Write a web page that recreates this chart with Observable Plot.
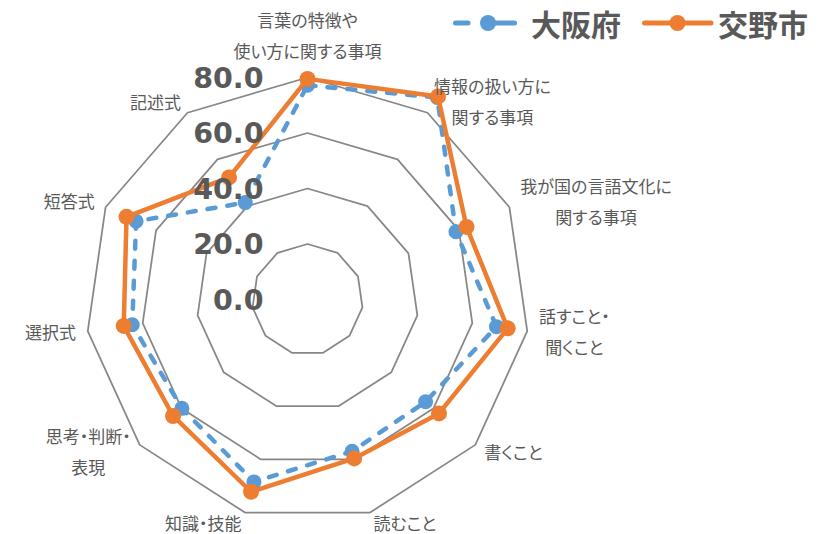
<!DOCTYPE html>
<html><head><meta charset="utf-8">
<script src="https://cdn.jsdelivr.net/npm/d3@7"></script>
<script src="https://cdn.jsdelivr.net/npm/@observablehq/plot@0.6"></script>
<style>
html,body{margin:0;padding:0;background:#fff;}
#wrap{position:relative;width:826px;height:534px;overflow:hidden;}
#chart svg text{font-feature-settings:"palt";}
.legsw{position:absolute;top:0;}
.legtx{position:absolute;top:0;height:46px;line-height:46px;font-family:"Noto Sans CJK JP";font-weight:bold;font-size:30px;color:#595959;white-space:nowrap;}
</style></head>
<body><div id="wrap"><div id="chart"></div><div id="legend"></div></div>
<script>
// ---- data ----
const categories = [
  "言葉の特徴や\n使い方に関する事項",
  "情報の扱い方に\n関する事項",
  "我が国の言語文化に\n関する事項",
  "話すこと・\n聞くこと",
  "書くこと",
  "読むこと",
  "知識・技能",
  "思考・判断・\n表現",
  "選択式",
  "短答式",
  "記述式"
];
const seriesNames = ["大阪府", "交野市"];
const osaka  = [77.2, 86.5, 58.8, 68.8, 56.3, 57.0, 68.5, 59.9, 63.8, 67.9, 41.5];
const katano = [79.5, 87.0, 63.0, 72.9, 62.7, 59.7, 72.2, 64.1, 66.9, 71.7, 52.3];
const gridLevels = [20, 40, 60, 80];
const tickLevels = [0, 20, 40, 60, 80];
const seriesColors = ["#5B9BD5", "#ED7D31"];

// ---- layout ----
const W = 826, H = 534, CX = 307, CY = 299, K = 2.775; // px per unit
const n = categories.length;
const ang = i => 2 * Math.PI * i / n;
const px = (v, i) => v * Math.sin(ang(i));
const py = (v, i) => v * Math.cos(ang(i));

const seriesValues = [osaka, katano];
const rows = seriesNames.flatMap((s, si) => seriesValues[si].map((v, i) => ({series: s, i, value: v})));
const rings = gridLevels.flatMap(l => categories.map((c, i) => ({level: l, i})));
const LAB_R = 80 + 12 / K;
const labels = categories.map((c, i) => ({label: c, i, s: Math.sin(ang(i))}));
const lab = d => ({x: px(LAB_R, d.i), y: py(LAB_R, d.i)});
const labFont = {fontFamily: "Noto Sans CJK JP", fontSize: 17, fill: "#595959", lineHeight: 1.82, lineAnchor: "middle"};

const marks = [
  Plot.line(rings, {x: d => px(d.level, d.i), y: d => py(d.level, d.i), z: "level", curve: "linear-closed", stroke: "#878787", strokeWidth: 1.75})
];
seriesNames.forEach((s, si) => {
  const data = rows.filter(d => d.series === s);
  marks.push(Plot.line(data, {
    x: d => px(d.value, d.i), y: d => py(d.value, d.i), curve: "linear-closed",
    stroke: seriesColors[si], strokeWidth: 4.5, strokeLinecap: "round", strokeLinejoin: "round",
    strokeDasharray: si === 0 ? "8,12" : null
  }));
  marks.push(Plot.dot(data, {x: d => px(d.value, d.i), y: d => py(d.value, d.i), r: si === 0 ? 7.5 : 8, fill: seriesColors[si], stroke: null}));
});
marks.push(
  Plot.text(labels.filter(d => d.s > 0.05), {x: d => lab(d).x, y: d => lab(d).y, text: "label", textAnchor: "start", dy: -4, ariaLabel: () => "catlabel-start", ...labFont}),
  Plot.text(labels.filter(d => d.s < -0.05), {x: d => lab(d).x, y: d => lab(d).y, text: "label", textAnchor: "end", dy: -4, ariaLabel: () => "catlabel-end", ...labFont}),
  Plot.text(labels.filter(d => Math.abs(d.s) <= 0.05), {x: d => lab(d).x, y: d => lab(d).y, text: "label", textAnchor: "middle", dy: -32.5, ...labFont}),
  Plot.text(tickLevels, {x: 0, y: d => d, text: d => d3.format(".1f")(d), textAnchor: "end", dx: -44, dy: 1,
    fontFamily: "DejaVu Sans", fontWeight: "bold", fontSize: 28.5, fill: "#595959"})
);

const chart = Plot.plot({
  width: W, height: H, margin: 0,
  x: {domain: [-CX / K, (W - CX) / K], axis: null},
  y: {domain: [(CY - H) / K, CY / K], axis: null},
  style: {background: "white", overflow: "visible"},
  marks
});
document.getElementById("chart").appendChild(chart);

// center-align lines within multi-line category labels
chart.querySelectorAll("text").forEach(t => {
  const al = t.getAttribute("aria-label") || "";
  if (!al.startsWith("catlabel")) return;
  const spans = Array.from(t.querySelectorAll("tspan"));
  if (spans.length < 2) return;
  const dir = al.endsWith("end") ? -1 : 1;
  const ws = spans.map(s => s.getComputedTextLength());
  const M = Math.max(...ws);
  spans.forEach((s, k) => s.setAttribute("x", dir * (M - ws[k]) / 2));
});

// legend
const leg = document.getElementById("legend");
const legItems = [
  {name: seriesNames[0], color: seriesColors[0], dashed: true, sx: 449, tx: 531},
  {name: seriesNames[1], color: seriesColors[1], dashed: false, sx: 638, tx: 718}
];
legItems.forEach(it => {
  const svg = d3.create("svg").attr("class", "legsw").attr("width", 78).attr("height", 46).style("left", it.sx + "px");
  if (it.dashed) {
    svg.append("line").attr("x1", 6.5).attr("x2", 19).attr("y1", 23).attr("y2", 23);
    svg.append("line").attr("x1", 39).attr("x2", 65.5).attr("y1", 23).attr("y2", 23);
  } else {
    svg.append("line").attr("x1", 6.5).attr("x2", 73).attr("y1", 23).attr("y2", 23);
  }
  svg.selectAll("line").attr("stroke", it.color).attr("stroke-width", 5).attr("stroke-linecap", "round");
  svg.append("circle").attr("cx", it.dashed ? 39 : 39.5).attr("cy", 23).attr("r", 8).attr("fill", it.color);
  leg.appendChild(svg.node());
  const tx = document.createElement("div");
  tx.className = "legtx"; tx.style.left = it.tx + "px"; tx.textContent = it.name;
  leg.appendChild(tx);
});
</script>
</body></html>
